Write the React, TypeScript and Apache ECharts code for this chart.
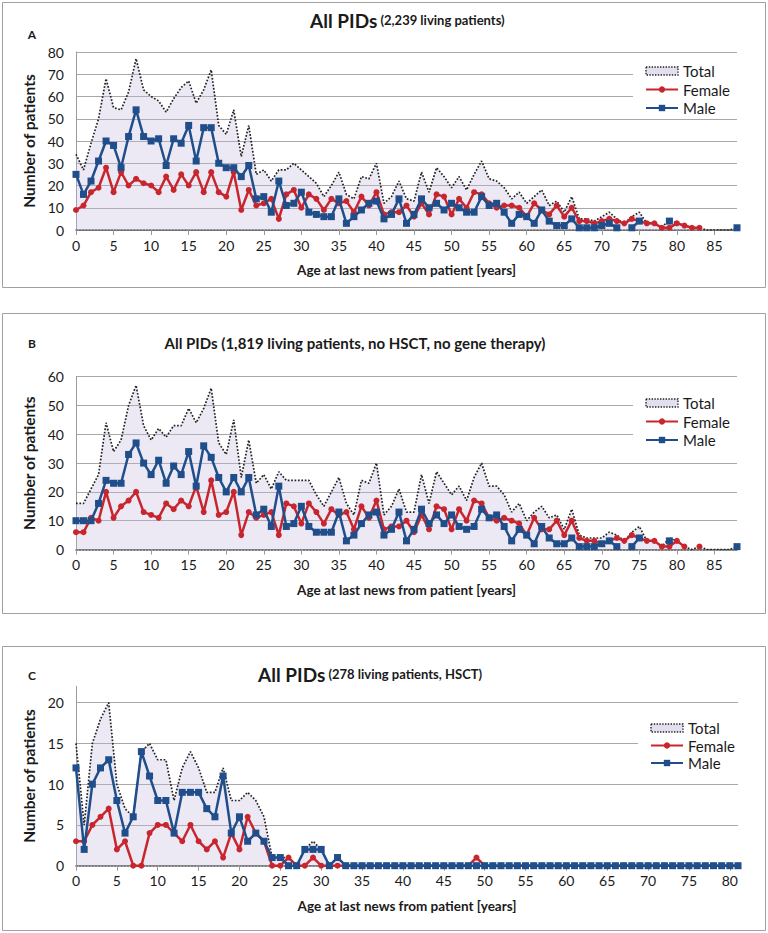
import React, { useEffect, useRef } from "react";
import * as echarts from "echarts";

const FONT = 'Lato, "Open Sans", sans-serif';

// Ages (categories)
const agesAB = ["0","1","2","3","4","5","6","7","8","9","10","11","12","13","14","15","16","17","18","19","20","21","22","23","24","25","26","27","28","29","30","31","32","33","34","35","36","37","38","39","40","41","42","43","44","45","46","47","48","49","50","51","52","53","54","55","56","57","58","59","60","61","62","63","64","65","66","67","68","69","70","71","72","73","74","75","76","77","78","79","80","81","82","83","84","85","86","87","88"];
const agesC = ["0","1","2","3","4","5","6","7","8","9","10","11","12","13","14","15","16","17","18","19","20","21","22","23","24","25","26","27","28","29","30","31","32","33","34","35","36","37","38","39","40","41","42","43","44","45","46","47","48","49","50","51","52","53","54","55","56","57","58","59","60","61","62","63","64","65","66","67","68","69","70","71","72","73","74","75","76","77","78","79","80","81"];

// Panel A: all living patients
const totalA = [34,27,39,50,68,55,54,62,77,63, 60,58,53,59,64,67,57,63,72,47, 43,54,33,47,25,27,22,27,27,30, 27,24,21,15,20,26,16,14,24,23, 30,12,15,22,14,13,26,17,28,24, 19,24,18,25,31,23,22,19,14,17, 12,15,18,11,13,8,15,5,5,4, 6,8,5,3,6,8,3,3,1,5, 3,2,1,1,0,0,0,0,1];
const femaleA = [9,11,17,19,28,17,26,20,23,21, 20,17,24,18,25,20,26,17,26,17, 15,26,9,18,11,12,14,5,16,18, 10,16,14,9,14,12,13,8,15,11, 17,7,8,8,11,6,12,7,16,15, 7,14,10,17,16,12,10,11,11,10, 6,12,9,7,11,6,10,4,4,3, 4,5,4,3,5,4,3,3,1,1, 3,2,1,1,null,null,null,null,null];
const maleA = [25,16,22,31,40,38,28,42,54,42, 40,41,29,41,39,47,31,46,46,30, 28,28,24,29,14,15,8,22,11,12, 17,8,7,6,6,14,3,6,9,12, 13,5,7,14,3,7,14,10,12,9, 12,10,8,8,15,11,12,8,3,7, 6,3,9,4,2,2,5,1,1,1, 2,3,1,null,1,4,null,null,null,4, null,null,null,null,null,null,null,null,1];

// Panel B: no HSCT, no gene therapy
const totalB = [16,16,21,26,44,34,38,50,57,43, 38,42,39,43,43,49,44,49,56,37, 33,45,25,38,23,26,21,27,24,24, 24,24,19,15,20,25,16,12,24,23, 30,12,15,21,13,13,26,16,27,23, 19,22,17,25,30,22,22,19,13,16, 10,13,15,11,12,7,14,5,4,4, 4,6,5,3,6,8,3,3,1,4, 3,1,0,1,0,0,0,0,1];
const femaleB = [6,6,11,10,20,11,15,17,20,13, 12,11,16,14,17,15,22,13,24,12, 13,20,5,13,11,12,13,5,16,15, 9,16,13,9,14,12,13,7,15,11, 17,7,8,8,10,6,12,7,15,14, 7,14,10,17,16,11,10,11,10,9, 5,11,7,7,10,5,10,4,3,3, 2,3,4,3,5,4,3,3,1,1, 3,1,null,1,null,null,null,null,null];
const maleB = [10,10,10,16,24,23,23,33,37,30, 26,31,23,29,26,34,22,36,32,25, 20,25,20,25,12,14,8,22,8,9, 15,8,6,6,6,13,3,5,9,12, 13,5,7,13,3,7,14,9,12,9, 12,8,7,8,14,11,12,8,3,7, 5,2,8,4,2,2,4,1,1,1, 2,3,1,null,1,4,null,null,null,3, null,null,null,null,null,null,null,null,1];

// Panel C: HSCT
const totalC = [15,5,15,18,20,10,7,6,14,15, 13,13,8,12,14,12,9,9,12,8, 8,9,8,6,1,1,1,0,2,3, 2,0,1,0,0,0,0,0,0,0, 0,0,0,0,0,0,0,0,0,1, 0,0,0,0,0,0,0,0,0,0, 0,0,0,0,0,0,0,0,0,0, 0,0,0,0,0,0,0,0,0,0, 0,0];
const femaleC = [3,3,5,6,7,2,3,0,0,4, 5,5,4,3,5,3,2,3,1,4, 2,6,4,3,0,0,1,0,0,1, 0,0,0,0,0,0,0,0,0,0, 0,0,0,0,0,0,0,0,0,1, 0,0,0,0,0,0,0,0,0,0, 0,0,0,0,0,0,0,0,0,0, 0,0,0,0,0,0,0,0,0,0, 0,0];
const maleC = [12,2,10,12,13,8,4,6,14,11, 8,8,4,9,9,9,7,6,11,4, 6,3,4,3,1,1,0,0,2,2, 2,0,1,0,0,0,0,0,0,0, 0,0,0,0,0,0,0,0,0,0, 0,0,0,0,0,0,0,0,0,0, 0,0,0,0,0,0,0,0,0,0, 0,0,0,0,0,0,0,0,0,0, 0,0];

const RED = "#c8262f";
const BLUE = "#1f4e8a";
const GRID_COLOR = "#a8a8a8";
const TEXT = "#1a1a1a";

function makeSeries(idx: number, total: any[], female: any[], male: any[]) {
  return [
    {
      name: "Total",
      type: "line",
      xAxisIndex: idx,
      yAxisIndex: idx,
      data: total,
      symbol: "none",
      lineStyle: { type: "dotted", color: "#222", width: 1.7 },
      areaStyle: { color: "rgba(196,184,222,0.45)", origin: "start" },
      z: 1,
    },
    {
      name: "Female",
      type: "line",
      xAxisIndex: idx,
      yAxisIndex: idx,
      data: female,
      symbol: "circle",
      symbolSize: 6,
      showSymbol: true,
      showAllSymbol: true,
      itemStyle: { color: RED },
      lineStyle: { color: RED, width: 2.5 },
      z: 3,
    },
    {
      name: "Male",
      type: "line",
      xAxisIndex: idx,
      yAxisIndex: idx,
      data: male,
      symbol: "rect",
      symbolSize: 7,
      showSymbol: true,
      showAllSymbol: true,
      itemStyle: { color: BLUE },
      lineStyle: { color: BLUE, width: 2.5 },
      z: 4,
    },
  ];
}

function makeX(idx: number, cats: string[]) {
  return {
    type: "category",
    gridIndex: idx,
    data: cats,
    boundaryGap: false,
    axisLine: { lineStyle: { color: "#555", type: "dotted", width: 1.6 } },
    axisTick: { interval: 4, length: 5, lineStyle: { color: "#999", type: "solid" } },
    axisLabel: { interval: 4, color: TEXT, fontSize: 14, margin: 8, fontFamily: FONT },
    splitLine: { show: false },
    name: "Age at last news from patient [years]",
    nameLocation: "middle",
    nameGap: 33,
    nameTextStyle: { fontWeight: "bold", fontSize: 13.5, color: TEXT, fontFamily: FONT },
  };
}

function makeY(idx: number, max: number, interval: number) {
  return {
    type: "value",
    gridIndex: idx,
    min: 0,
    max,
    interval,
    axisLine: { show: true, lineStyle: { color: "#9a9a9a" } },
    axisTick: { show: false },
    axisLabel: { color: TEXT, fontSize: 14, margin: 12, fontFamily: FONT, showMaxLabel: max % interval === 0 },
    splitLine: { lineStyle: { color: GRID_COLOR }, showMaxLine: max % interval === 0 },
    name: "Number of patients",
    nameLocation: "middle",
    nameGap: 36,
    nameTextStyle: { fontWeight: "bold", fontSize: 15.5, color: TEXT, fontFamily: FONT },
  };
}

function makeLegend(left: number, top: number, gap: number) {
  return {
    orient: "vertical",
    left,
    top,
    padding: [5, 12, 1, 12],
    backgroundColor: "#ffffff",
    itemWidth: 32,
    itemHeight: 8,
    itemGap: gap,
    selectedMode: false,
    textStyle: { fontSize: 15, color: TEXT, fontFamily: FONT, lineHeight: 16 },
    data: [
      {
        name: "Total",
        icon: "path://M0,0h32v8h-32z",
        itemStyle: { color: "#e4dfee", borderColor: "#222", borderType: "dotted", borderWidth: 1.4 },
      },
      { name: "Female" },
      { name: "Male" },
    ],
  };
}

export default function App() {
  const ref = useRef<HTMLDivElement>(null);
  useEffect(() => {
    if (!ref.current) return;
    const chart = echarts.init(ref.current, null, { renderer: "svg" });
    const subRich = {
      a: { fontSize: 19, fontWeight: "bold", fontFamily: FONT, fill: TEXT },
      b: { fontSize: 13, fontWeight: "bold", fontFamily: FONT, fill: TEXT },
    };
    const option: any = {
      animation: false,
      backgroundColor: "#ffffff",
      textStyle: { fontFamily: FONT },
      grid: [
        { left: 76, top: 52, width: 661, height: 178, outerBoundsMode: "none" },
        { left: 76, top: 376.7, width: 661, height: 172.8, outerBoundsMode: "none" },
        { left: 76, top: 686.4, width: 662, height: 179.3, outerBoundsMode: "none" },
      ],
      xAxis: [makeX(0, agesAB), makeX(1, agesAB), makeX(2, agesC)],
      yAxis: [makeY(0, 80, 10), makeY(1, 60, 10), makeY(2, 22, 5)],
      legend: [makeLegend(633, 58, 2.5), makeLegend(633, 390, 2.5), makeLegend(638, 715, 1.5)],
      series: [
        ...makeSeries(0, totalA, femaleA, maleA),
        ...makeSeries(1, totalB, femaleB, maleB),
        ...makeSeries(2, totalC, femaleC, maleC),
      ],
      graphic: [
        { type: "rect", silent: true, shape: { x: 2.5, y: 2.5, width: 763, height: 285 }, style: { fill: "none", stroke: "#a0a0a0", lineWidth: 1 } },
        { type: "rect", silent: true, shape: { x: 2.5, y: 313.5, width: 763, height: 300 }, style: { fill: "none", stroke: "#a0a0a0", lineWidth: 1 } },
        { type: "rect", silent: true, shape: { x: 2.5, y: 646.5, width: 763, height: 284 }, style: { fill: "none", stroke: "#a0a0a0", lineWidth: 1 } },
        { type: "text", silent: true, style: { text: "A", x: 32, y: 34, align: "center", verticalAlign: "middle", font: "bold 12px Lato, sans-serif", fill: TEXT } },
        { type: "text", silent: true, style: { text: "B", x: 32, y: 343, align: "center", verticalAlign: "middle", font: "bold 12px Lato, sans-serif", fill: TEXT } },
        { type: "text", silent: true, style: { text: "C", x: 32, y: 675, align: "center", verticalAlign: "middle", font: "bold 12px Lato, sans-serif", fill: TEXT } },
        {
          type: "text",
          silent: true,
          style: {
            text: "{a|All PIDs} {b|(2,239 living patients)}",
            x: 310,
            y: 20,
            align: "left",
            verticalAlign: "middle",
            fill: TEXT,
            font: "bold 13px Lato, sans-serif",
            rich: subRich,
          },
        },
        {
          type: "text",
          silent: true,
          style: {
            text: "All PIDs (1,819 living patients, no HSCT, no gene therapy)",
            x: 355,
            y: 343,
            align: "center",
            verticalAlign: "middle",
            fill: TEXT,
            font: "bold 15px Lato, sans-serif",
          },
        },
        {
          type: "text",
          silent: true,
          style: {
            text: "{a|All PIDs} {b|(278 living patients, HSCT)}",
            x: 258,
            y: 674,
            align: "left",
            verticalAlign: "middle",
            fill: TEXT,
            font: "bold 13px Lato, sans-serif",
            rich: subRich,
          },
        },
      ],
    };
    chart.setOption(option);
    return () => chart.dispose();
  }, []);
  return <div ref={ref} style={{ position: "absolute", left: 0, top: 0, width: 768, height: 933 }} />;
}
